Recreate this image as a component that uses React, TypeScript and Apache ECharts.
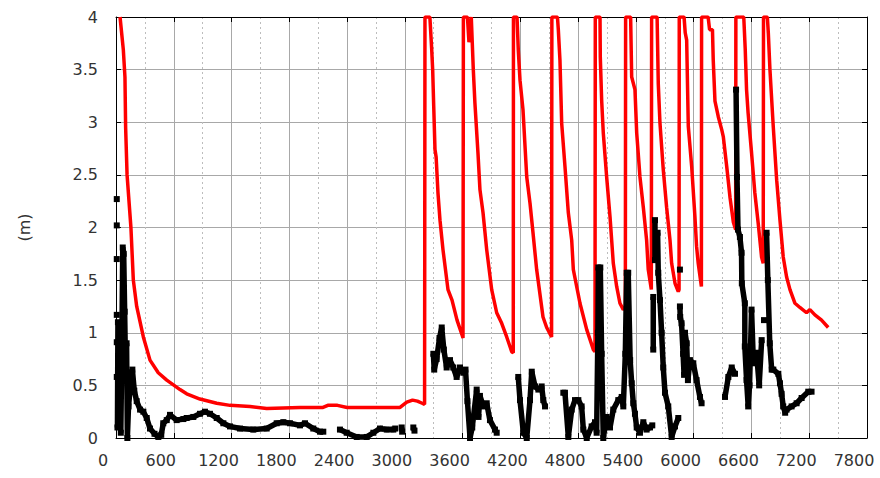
import React, { useEffect, useRef } from "react";
import * as echarts from "echarts";

// x tick labels (every 600) and y tick labels (every 0.5)
const xTicks = [0, 600, 1200, 1800, 2400, 3000, 3600, 4200, 4800, 5400, 6000, 6600, 7200, 7800];
const yTicks = [0, 0.5, 1, 1.5, 2, 2.5, 3, 3.5, 4];

// red curve [x, y]
const redLine: [number, number][] = [
  [42, 4.0], [76, 3.69], [93, 3.43], [100, 2.95], [115, 2.5], [155, 2.0], [180, 1.5], [215, 1.25],
  [284, 0.96], [353, 0.74], [439, 0.62], [527, 0.55], [665, 0.46], [734, 0.42], [872, 0.37],
  [1046, 0.33], [1184, 0.31], [1392, 0.3], [1565, 0.28], [1911, 0.29], [2150, 0.29], [2200, 0.31],
  [2300, 0.31], [2400, 0.29], [2950, 0.29], [3020, 0.34], [3080, 0.36], [3130, 0.35], [3180, 0.33], [3205, 0.32],
  [3209, 4.0], [3260, 4.0], [3279, 3.69], [3289, 3.5], [3300, 3.15], [3313, 2.74], [3325, 2.67], [3344, 2.33],
  [3365, 2.07], [3396, 1.79], [3448, 1.41], [3490, 1.31], [3542, 1.12], [3594, 0.98], [3604, 0.95],
  [3608, 4.0], [3650, 4.0], [3666, 3.76], [3690, 4.0], [3711, 3.5], [3728, 3.18], [3760, 2.7], [3780, 2.36],
  [3812, 2.14], [3850, 1.79], [3902, 1.41], [3954, 1.19], [4006, 1.09], [4058, 0.96], [4110, 0.82], [4126, 0.81],
  [4128, 4.0], [4165, 4.0], [4178, 3.69], [4196, 3.4], [4227, 3.12], [4266, 2.48], [4300, 2.23], [4331, 1.95],
  [4369, 1.6], [4435, 1.15], [4473, 1.05], [4524, 0.96],
  [4527, 4.0], [4585, 4.0], [4594, 3.88], [4611, 3.59], [4629, 2.99], [4663, 2.58], [4698, 2.14], [4733, 1.88],
  [4750, 1.6], [4819, 1.28], [4889, 1.03], [4958, 0.84], [4975, 0.82],
  [4978, 4.0], [5027, 4.0], [5030, 3.62], [5044, 3.21], [5061, 2.9], [5096, 2.48], [5131, 2.1], [5165, 1.66],
  [5200, 1.44], [5234, 1.28], [5269, 1.22], [5290, 1.24],
  [5293, 4.0], [5345, 4.0], [5356, 3.43], [5390, 3.31], [5408, 2.9], [5442, 2.48], [5477, 2.19], [5511, 1.88],
  [5528, 1.6], [5560, 1.41],
  [5563, 4.0], [5620, 4.0], [5632, 3.37], [5650, 2.99], [5684, 2.55], [5719, 2.19], [5754, 1.88], [5771, 1.66],
  [5806, 1.47], [5840, 1.39], [5848, 1.41],
  [5850, 4.0], [5900, 4.0], [5912, 3.85], [5927, 3.78], [5944, 2.96], [5979, 2.58], [6013, 2.1], [6030, 1.82],
  [6047, 1.66], [6080, 1.44],
  [6082, 4.0], [6150, 4.0], [6165, 3.88], [6195, 3.88], [6203, 3.59], [6221, 3.2], [6256, 3.05], [6291, 2.93],
  [6308, 2.86], [6343, 2.58], [6378, 2.28], [6412, 2.05], [6436, 1.98],
  [6438, 4.0], [6520, 4.0], [6535, 3.7], [6549, 3.31], [6565, 3.09], [6601, 2.71], [6635, 2.33], [6670, 2.04],
  [6705, 1.72], [6722, 1.66],
  [6725, 4.0], [6765, 4.0], [6775, 3.85], [6792, 3.5], [6827, 2.95], [6862, 2.45], [6896, 2.07], [6930, 1.72],
  [6965, 1.53], [7000, 1.41], [7052, 1.28], [7103, 1.24], [7172, 1.19], [7207, 1.22], [7259, 1.17],
  [7328, 1.12], [7397, 1.05],
];

// black points [x, y]; null marks a gap in the record
const blackPoints: ([number, number] | null)[] = [
  [8, 2.27], null, [8, 2.02], null, [8, 1.7], null, [8, 1.17], null, [8, 0.91], null, [8, 0.58], null,
  [15, 0.1], [20, 1.1], [30, 0.2], [40, 1.05], [50, 0.05], [60, 0.8], [70, 1.81], [80, 1.75], [90, 1.2],
  [100, 0.6], [110, 0.9], [118, 0.0], [130, 0.3], [150, 0.5], [170, 0.65], [190, 0.45], [215, 0.35],
  [250, 0.27], [284, 0.25], [319, 0.19], [353, 0.09], [400, 0.04], [440, 0.01], [470, 0.03], [491, 0.14],
  [527, 0.17], [561, 0.22], [630, 0.17], [700, 0.18], [734, 0.19], [803, 0.2], [872, 0.23], [924, 0.25],
  [976, 0.23], [1046, 0.19], [1115, 0.14], [1184, 0.11], [1288, 0.09], [1426, 0.08], [1565, 0.09],
  [1669, 0.14], [1738, 0.15], [1807, 0.14], [1911, 0.12], [1963, 0.14], [2049, 0.09], [2119, 0.06],
  [2153, 0.06], null,
  [2326, 0.08], [2396, 0.05], [2500, 0.01], [2604, 0.01], [2673, 0.05], [2742, 0.09], [2812, 0.08],
  [2880, 0.08], [2900, 0.09], null, [2967, 0.1], [2972, 0.06], null, [3088, 0.1], [3100, 0.07], null,
  [3296, 0.8], [3305, 0.65], [3330, 0.75], [3360, 0.95], [3383, 1.05], [3405, 0.84], [3434, 0.67],
  [3469, 0.74], [3503, 0.67], [3538, 0.58], [3573, 0.67], [3608, 0.62], [3630, 0.65], [3650, 0.35],
  [3677, 0.0], [3700, 0.1], [3746, 0.46], [3765, 0.2], [3780, 0.4], [3815, 0.3], [3850, 0.33],
  [3884, 0.17], [3936, 0.08], [3954, 0.05], null,
  [4178, 0.58], [4196, 0.36], [4231, 0.05], [4266, 0.0], [4300, 0.36], [4318, 0.63], [4352, 0.49],
  [4387, 0.46], [4421, 0.49], [4438, 0.36], [4456, 0.3], null,
  [4646, 0.43], [4663, 0.43], [4698, 0.01], [4733, 0.27], [4767, 0.36], [4802, 0.36], [4836, 0.3],
  [4854, 0.08], [4889, 0.0], [4940, 0.11], [4975, 0.15], [4992, 0.05], [5005, 1.0], [5010, 1.62],
  [5030, 1.62], [5044, 0.8], [5061, 0.0], [5096, 0.2], [5131, 0.1], [5165, 0.27], [5217, 0.36],
  [5252, 0.39], [5269, 0.3], [5290, 0.8], [5304, 1.57], [5320, 1.57], [5340, 0.74], [5356, 0.52],
  [5373, 0.33], [5390, 0.23], [5408, 0.1], [5442, 0.05], [5477, 0.15], [5511, 0.08], [5546, 0.1],
  [5570, 0.12], null,
  [5580, 0.84], [5580, 1.34], null, [5598, 1.69], [5598, 2.07], null,
  [5625, 1.95], [5632, 1.57], [5650, 1.31], [5667, 1.0], [5684, 0.67], [5702, 0.43], [5736, 0.3],
  [5771, 0.01], [5806, 0.11], [5840, 0.19], null, [5857, 1.6], null,
  [5857, 1.25], [5860, 1.15], [5874, 1.09], [5890, 0.8], [5900, 0.6], [5910, 1.0], [5927, 0.9],
  [5940, 0.55], [5961, 0.74], [5996, 0.71], [6030, 0.55], [6065, 0.39], [6082, 0.33], null,
  [6325, 0.39], [6360, 0.58], [6395, 0.67], [6429, 0.61], null,
  [6440, 3.31], [6450, 2.48], [6460, 1.98], [6480, 1.91], [6497, 1.76], [6500, 1.47], [6531, 1.28],
  [6531, 0.87], [6549, 0.55], [6566, 0.3], [6580, 0.5], [6601, 1.22], [6620, 0.71], [6653, 0.81],
  [6680, 0.5], [6706, 0.93], null, [6730, 1.12], null,
  [6757, 1.95], [6770, 1.5], [6790, 0.9], [6810, 0.65], [6827, 0.65], [6879, 0.61], [6896, 0.52],
  [6913, 0.42], [6930, 0.3], [6950, 0.24], [6965, 0.27], [7017, 0.3], [7069, 0.33], [7121, 0.38],
  [7190, 0.44], [7224, 0.44],
];

const FONT = "DejaVu Sans";
const GRID = { left: 116, right: 13, top: 17, bottom: 40 };
const LABEL_SHIFT = 13;

export default function App() {
  const ref = useRef<HTMLDivElement>(null);
  useEffect(() => {
    if (!ref.current) return;
    const chart = echarts.init(ref.current, null, { renderer: "svg" });
    const blackData = blackPoints.map((p, i) => {
      if (p) return p;
      const prev = blackPoints[i - 1];
      return [prev ? prev[0] : 0, "-"];
    });
    const xMin = xTicks[0];
    const xMax = xTicks[xTicks.length - 1];
    const xStep = xTicks[1] - xTicks[0];
    const yMin = yTicks[0];
    const yMax = yTicks[yTicks.length - 1];
    const yStep = yTicks[1] - yTicks[0];
    const hidden = { show: false };
    chart.setOption({
      animation: false,
      backgroundColor: "#ffffff",
      grid: [
        { ...GRID, containLabel: false },
        {
          left: GRID.left - LABEL_SHIFT,
          right: GRID.right + LABEL_SHIFT,
          top: GRID.top,
          bottom: GRID.bottom,
          containLabel: false,
        },
      ],
      xAxis: [
        {
          type: "value",
          gridIndex: 0,
          min: xMin,
          max: xMax,
          interval: xStep,
          position: "bottom",
          axisLine: { show: true, onZero: false, lineStyle: { color: "#000", width: 1 } },
          axisTick: { show: true, inside: true, length: 5, lineStyle: { color: "#000" } },
          axisLabel: hidden,
          splitLine: { show: true, lineStyle: { color: "#a8a8a8", width: 1 } },
          minorTick: { show: true, splitNumber: 2, length: 0, lineStyle: { color: "transparent" } },
          minorSplitLine: { show: true, lineStyle: { color: "#bdbdbd", type: [2, 3], width: 1 } },
        },
        {
          type: "value",
          gridIndex: 0,
          min: xMin,
          max: xMax,
          interval: xStep,
          position: "top",
          axisLine: { show: true, onZero: false, lineStyle: { color: "#000", width: 1 } },
          axisTick: { show: true, inside: true, length: 5, lineStyle: { color: "#000" } },
          axisLabel: hidden,
          splitLine: hidden,
        },
        {
          type: "value",
          gridIndex: 1,
          min: xMin,
          max: xMax,
          interval: xStep,
          position: "bottom",
          axisLine: hidden,
          axisTick: hidden,
          splitLine: hidden,
          axisLabel: {
            show: true,
            color: "#333",
            fontFamily: FONT,
            fontSize: 16,
            margin: 14,
            formatter: (v: number) => String(v),
          },
        },
      ],
      yAxis: [
        {
          type: "value",
          gridIndex: 0,
          min: yMin,
          max: yMax,
          interval: yStep,
          position: "left",
          name: "(m)",
          nameLocation: "middle",
          nameGap: 84,
          nameRotate: 90,
          nameTextStyle: { color: "#333", fontFamily: FONT, fontSize: 16 },
          axisLine: { show: true, onZero: false, lineStyle: { color: "#000", width: 1 } },
          axisTick: { show: true, inside: true, length: 5, lineStyle: { color: "#000" } },
          axisLabel: {
            color: "#333",
            fontFamily: FONT,
            fontSize: 16,
            margin: 18,
            formatter: (v: number) => String(v),
          },
          splitLine: { show: true, lineStyle: { color: "#a8a8a8", width: 1 } },
        },
        {
          type: "value",
          gridIndex: 0,
          min: yMin,
          max: yMax,
          interval: yStep,
          position: "right",
          axisLine: { show: true, onZero: false, lineStyle: { color: "#000", width: 1 } },
          axisTick: { show: true, inside: true, length: 5, lineStyle: { color: "#000" } },
          axisLabel: hidden,
          splitLine: hidden,
        },
        {
          type: "value",
          gridIndex: 1,
          min: yMin,
          max: yMax,
          show: false,
        },
      ],
      series: [
        {
          type: "line",
          name: "red",
          xAxisIndex: 0,
          yAxisIndex: 0,
          data: redLine,
          showSymbol: false,
          symbol: "none",
          lineStyle: { color: "#ff0000", width: 3.5 },
          z: 2,
        },
        {
          type: "line",
          name: "black",
          xAxisIndex: 0,
          yAxisIndex: 0,
          data: blackData,
          connectNulls: false,
          symbol: "rect",
          symbolSize: 6,
          showSymbol: true,
          showAllSymbol: true,
          itemStyle: { color: "#000" },
          lineStyle: { color: "#000", width: 5.5 },
          z: 3,
        },
      ],
    });
    return () => chart.dispose();
  }, []);
  return (
    <div
      ref={ref}
      style={{ position: "fixed", left: 0, top: 0, width: 880, height: 478 }}
    />
  );
}
